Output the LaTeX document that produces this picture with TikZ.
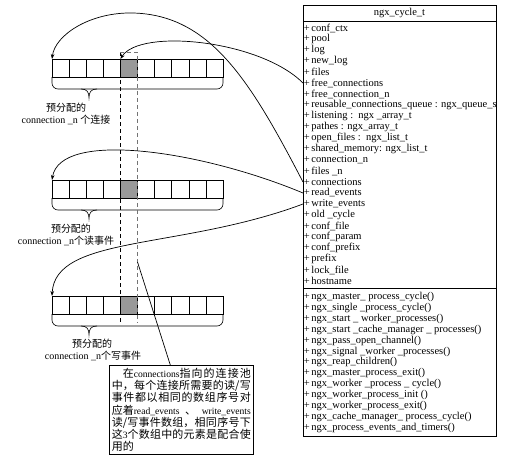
\documentclass[tikz,border=0pt]{standalone}
\usepackage{fontspec}
\setmainfont{Liberation Serif}
\newfontfamily\cjk{Noto Sans CJK SC}
\usetikzlibrary{arrows.meta}
\XeTeXlinebreaklocale "zh"
\XeTeXlinebreakskip=0pt plus 2pt
\newcommand\latw[1]{{\rmfamily\fontsize{9.6}{12.2}\selectfont #1}}
\begin{document}
\begin{tikzpicture}[x=1pt,y=-1pt,line width=0.6pt,
  cellbox/.style={draw,minimum width=17.1pt,minimum height=18pt,inner sep=0pt,outer sep=0pt,anchor=north west},
  item/.style={anchor=west,inner sep=0.5pt,font=\fontsize{10.5}{11}\selectfont},
  lbl/.style={inner sep=0pt,font=\fontsize{10}{12}\selectfont},
  ptr/.style={-{Stealth[length=5pt,width=3.6pt]},line width=0.7pt},
  guide/.style={dash pattern=on 4pt off 3pt,line width=0.5pt},
  notebox/.style={draw,anchor=north west,text width=139pt,align=justify,inner xsep=2.5pt,inner ysep=3pt,font=\cjk\fontsize{11}{12.2}\selectfont}]
\useasboundingbox (0,0) rectangle (515,466);

% ---- class box ----
\node[draw,anchor=north west,minimum width=193pt,minimum height=431pt,inner sep=0pt] (cls) at (303,5) {};
\node[font=\fontsize{10.5}{11}\selectfont,inner sep=0pt] (title) at (399.5,13) {ngx\_cycle\_t};
\draw (303,21) -- (496,21);
\draw (303,288.5) -- (496,288.5);
\begin{scope}
\clip (303,5) rectangle (495.5,436);
\foreach \t [count=\i] in {conf\_ctx,pool,log,new\_log,files,free\_connections,free\_connection\_n,
  reusable\_connections\_queue : ngx\_queue\_s,listening :\ \ ngx \_array\_t,pathes : ngx\_array\_t,
  open\_files :\ \ ngx\_list\_t,shared\_memory: ngx\_list\_t,connection\_n,files \_n,connections,
  read\_events,write\_events,old \_cycle,conf\_file,conf\_param,conf\_prefix,prefix,lock\_file,hostname}
  \node[item] (a\i) at (303,{28+(\i-1)*11}) {+\,\t};
\foreach \t [count=\i] in {ngx\_master\_ process\_cycle(),ngx\_single \_process\_cycle(),
  ngx\_start \_ worker\_processes(),ngx\_start \_cache\_manager \_ processes(),ngx\_pass\_open\_channel(),
  ngx\_signal \_worker \_processes(),ngx\_reap\_children(),ngx\_master\_process\_exit(),
  ngx\_worker \_process \_ cycle(),ngx\_worker\_process\_init (),ngx\_worker\_process\_exit(),
  ngx\_cache\_manager\_ process\_cycle(),ngx\_process\_events\_and\_timers()}
  \node[item] (m\i) at (303,{297+(\i-1)*10.9}) {+\,\t};
\end{scope}

% ---- arrays ----
\foreach \r/\yy in {1/59,2/180,3/296} {
  \fill[black!40] (120.4,\yy) rectangle ++(17.1,18);
  \foreach \i in {1,...,10}
    \node[cellbox] (c\r-\i) at ({52+(\i-1)*17.1},\yy) {};
  \draw[rounded corners=6pt] (52,{\yy+18}) -- (52,{\yy+30}) -- (223,{\yy+30}) -- (223,{\yy+18});
  \draw (81,{\yy+30}) .. controls (87,{\yy+30}) and (89,{\yy+33}) .. (89,{\yy+39})
        .. controls (89,{\yy+33}) and (91,{\yy+30}) .. (97,{\yy+30});
}

% ---- labels ----
\node[lbl] (l1a) at (66,108) {\cjk 预分配的};
\node[lbl] (l1b) at (66,120) {connection \_n {\cjk 个连接}};
\node[lbl] (l2a) at (71,229) {\cjk 预分配的};
\node[lbl] (l2b) at (66,241) {connection \_n{\cjk 个读事件}};
\node[lbl] (l3a) at (92,344) {\cjk 预分配的};
\node[lbl] (l3b) at (93,356) {connection \_n{\cjk 个写事件}};

% ---- dashed guides ----
\coordinate (g1) at (120.4,52);
\coordinate (g2) at (137.5,52);
\coordinate (g1e) at (120.4,323);
\coordinate (g2e) at (137.5,323);
\draw[guide] (g1) -- (g1e);
\draw[guide,black!55] (g1) -- (g2) -- (g2e);

% ---- note ----
\node[notebox] (note) at (109,365) {\noindent\tolerance=10000
\hspace*{11pt}在\latw{connections}指向的连接池\linebreak
中，每个连接所需要的读/写\linebreak
事件都以相同的数组序号对\linebreak
应着\latw{read\_events}\hspace{0pt plus 1fil}、\hspace{0pt plus 1fil}\latw{write\_events}\linebreak
读/写事件数组，相同序号下\linebreak
这\latw{3}个数组中的元素是配合使\linebreak
用的};
\coordinate (p) at (137.5,262);
\draw[line width=0.7pt] (p) -- ([xshift=-11pt]note.north);

% ---- connectors ----
\draw[ptr] (a15.west) .. controls (250,80) and (210,15) .. (133,13)
           .. controls (90,12) and (55,35) .. (c1-1.north west);
\draw[ptr] (a6.west) .. controls (260,40) and (140,28) .. (c1-5.north west);
\draw[ptr] (a16.west) .. controls (200,150) and (60,130) .. (c2-1.north west);
\draw[ptr] (a17.west) .. controls (180,250) and (55,235) .. (c3-1.north west);
\end{tikzpicture}
\end{document}
